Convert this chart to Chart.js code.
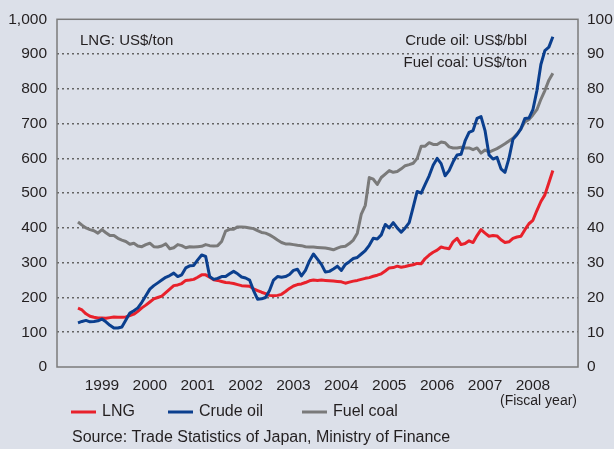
<!DOCTYPE html>
<html>
<head>
<meta charset="utf-8">
<script src="https://cdn.jsdelivr.net/npm/chart.js@4.4.0/dist/chart.umd.min.js"></script>
<style>
  html, body { margin: 0; padding: 0; background: #dce0e9; }
  #wrap { width: 614px; height: 449px; }
</style>
</head>
<body>
<div id="wrap"><canvas id="precios" width="614" height="449"></canvas></div>
<script>
// =========================
// DATA (monthly, from April 1999)
// =========================

const years = ["1999", "2000", "2001", "2002", "2003", "2004", "2005", "2006", "2007", "2008"];

// LNG, US$/ton (left axis)
const lng = [
    169, 164, 153, 146, 143, 141, 141, 140, 142, 144, 143, 143, 144, 148, 152, 160, 170, 178, 187, 196, 200,
    204, 214, 224, 234, 236, 240, 249, 250, 252, 258, 265, 265, 258, 251, 249, 246, 243, 242, 240, 237,
    234, 233, 232, 225, 220, 215, 211, 206, 205, 206, 209, 217, 226, 233, 237, 239, 243, 248, 250, 249,
    250, 249, 248, 247, 246, 245, 241, 244, 247, 249, 252, 255, 257, 261, 264, 268, 276, 285, 286, 290,
    287, 289, 292, 294, 298, 297, 312, 322, 330, 336, 345, 342, 340, 360, 370, 352, 355, 363, 358, 378,
    395, 385, 376, 378, 377, 366, 358, 360, 370, 374, 376, 395, 412, 422, 450, 476, 495, 530, 565
];

// Crude oil, US$/bbl (right axis)
const crude = [
    12.7, 13.1, 13.4, 13.0, 13.1, 13.3, 13.8, 13.0, 12.0, 11.2, 11.2, 11.5, 13.5, 15.5, 16.2, 17.0, 18.6, 20.5, 22.4, 23.4, 24.2,
    25.0, 25.8, 26.3, 27.0, 26.0, 26.5, 28.5, 29.1, 29.2, 30.8, 32.2, 31.8, 26.0, 25.2, 25.5, 26.0, 26.0, 26.8, 27.5, 26.8,
    25.9, 25.6, 25.0, 22.0, 19.5, 19.6, 20.0, 22.0, 25.0, 26.0, 25.8, 26.0, 26.6, 27.8, 28.1, 26.2, 27.8, 30.5, 32.5, 31.0,
    29.5, 27.3, 27.5, 28.2, 29.0, 27.8, 29.5, 30.3, 31.2, 31.5, 32.5, 33.5, 35.0, 37.0, 36.8, 38.0, 41.0, 40.0, 41.5, 40.0,
    38.8, 40.0, 41.5, 46.0, 50.5, 50.0, 52.5, 55.0, 58.0, 60.0, 58.5, 55.0, 56.5, 59.0, 61.0, 61.2, 65.0, 67.5, 68.0, 71.5,
    72.0, 68.0, 61.0, 59.8, 60.3, 57.0, 56.0, 60.0, 65.5, 66.8, 68.5, 71.5, 71.6, 74.0, 79.5, 87.0, 91.0, 92.0, 95.0
];

// Fuel coal, US$/ton (right axis)
const coal = [
    41.7, 40.8, 40.0, 39.5, 39.2, 38.5, 39.5, 38.6, 37.8, 37.8, 37.0, 36.5, 36.1, 35.3, 35.6, 34.8, 34.6, 35.2, 35.6, 34.6, 34.5,
    34.8, 35.4, 34.0, 34.3, 35.2, 34.9, 34.3, 34.6, 34.5, 34.6, 34.7, 35.2, 34.9, 34.8, 34.9, 36.1, 39.1, 39.6, 39.6, 40.3,
    40.3, 40.2, 40.0, 39.8, 39.2, 38.7, 38.5, 38.0, 37.3, 36.5, 35.8, 35.4, 35.4, 35.2, 35.0, 34.9, 34.6, 34.5, 34.5, 34.4,
    34.3, 34.2, 34.0, 33.7, 34.2, 34.6, 34.7, 35.5, 36.5, 38.5, 44.0, 46.5, 54.5, 54.0, 52.5, 54.5, 55.5, 56.5, 56.0, 56.2,
    57.0, 57.9, 58.2, 58.6, 60.0, 63.5, 63.5, 64.5, 64.0, 64.0, 64.7, 64.5, 63.3, 63.0, 63.0, 63.2, 63.0, 63.0, 62.5, 63.0,
    61.5, 62.4, 61.8, 62.3, 62.8, 63.5, 64.2, 65.0, 65.8, 67.0, 68.5, 70.5, 71.2, 72.5, 74.0, 77.0, 79.5, 82.5, 84.5
];

const toPoints = arr => arr.map((v, i) => ({ x: i, y: v }));

const FONT = "'Liberation Sans', Arial, sans-serif";
const TEXT = "#231f20";

// =========================
// TEXTOS Y MARCO
// =========================

const extras = {
    id: "extras",

    beforeDatasetsDraw(chart) {
        const { ctx, chartArea: a } = chart;
        ctx.save();
        ctx.strokeStyle = "#7b7b7b";
        ctx.lineWidth = 1.5;
        ctx.strokeRect(a.left, a.top, a.right - a.left, a.bottom - a.top);
        ctx.restore();
    },

    afterDraw(chart) {
        const ctx = chart.ctx;
        ctx.save();
        ctx.fillStyle = TEXT;
        ctx.textBaseline = "middle";

        ctx.font = "15px " + FONT;
        ctx.textAlign = "left";
        ctx.fillText("LNG: US$/ton", 80, 41);
        ctx.textAlign = "right";
        ctx.fillText("Crude oil: US$/bbl", 527, 41);
        ctx.fillText("Fuel coal: US$/ton", 527, 63);

        ctx.font = "14px " + FONT;
        ctx.fillText("(Fiscal year)", 577, 401);

        // legend
        const spots = [71, 168, 302];
        ctx.font = "16px " + FONT;
        ctx.textAlign = "left";
        chart.data.datasets.forEach((ds, i) => {
            const x = spots[i];
            ctx.strokeStyle = ds.borderColor;
            ctx.lineWidth = 3;
            ctx.beginPath();
            ctx.moveTo(x, 412);
            ctx.lineTo(x + 25, 412);
            ctx.stroke();
            ctx.fillText(ds.label, x + 31, 412);
        });

        ctx.fillText("Source: Trade Statistics of Japan, Ministry of Finance", 72, 438);
        ctx.restore();
    }
};

// =========================
// GRÁFICO
// =========================

const canvas = document.getElementById("precios");

new Chart(canvas, {

    type: "line",

    data: {
        datasets: [
            {
                label: "LNG",
                data: toPoints(lng),
                yAxisID: "y",
                borderColor: "#e8212b",
                borderWidth: 3,
                order: 2
            },
            {
                label: "Crude oil",
                data: toPoints(crude),
                yAxisID: "y1",
                borderColor: "#0b3f8e",
                borderWidth: 3,
                order: 1
            },
            {
                label: "Fuel coal",
                data: toPoints(coal),
                yAxisID: "y1",
                borderColor: "#7a7a7a",
                borderWidth: 3,
                order: 3
            }
        ]
    },

    options: {
        responsive: false,
        animation: false,
        events: [],

        elements: {
            point: { radius: 0 },
            line: { tension: 0, borderJoinStyle: "round" }
        },

        layout: {
            padding: { top: 17, left: 0, right: 0, bottom: 0 }
        },

        plugins: {
            legend: { display: false },
            tooltip: { enabled: false }
        },

        scales: {

            x: {
                type: "linear",
                min: -5.26,
                max: 125.3,
                grid: { display: false, drawTicks: false },
                border: { display: false },
                afterFit: s => { s.height = 82; },
                afterBuildTicks: s => {
                    s.ticks = years.map((y, i) => ({ value: 6 + 12 * i }));
                },
                ticks: {
                    padding: 9,
                    maxRotation: 0,
                    autoSkip: false,
                    color: TEXT,
                    font: { family: FONT, size: 15.5 },
                    callback: value => years[Math.round((value - 6) / 12)]
                }
            },

            y: {
                position: "left",
                min: 0,
                max: 1000,
                afterFit: s => { s.width = 57; },
                grid: {
                    drawTicks: false,
                    lineWidth: 1.6,
                    color: c => (c.tick.value === 0 || c.tick.value === 1000) ? "rgba(0,0,0,0)" : "#646464"
                },
                border: { display: false, dash: [2, 3] },
                ticks: {
                    stepSize: 100,
                    padding: 10,
                    color: TEXT,
                    font: { family: FONT, size: 15.5 },
                    callback: value => value.toLocaleString("en-US")
                }
            },

            y1: {
                position: "right",
                min: 0,
                max: 100,
                afterFit: s => { s.width = 36; },
                grid: { display: false, drawTicks: false },
                border: { display: false },
                ticks: {
                    stepSize: 10,
                    padding: 9,
                    color: TEXT,
                    font: { family: FONT, size: 15.5 }
                }
            }
        }
    },

    plugins: [extras]

});
</script>
</body>
</html>
